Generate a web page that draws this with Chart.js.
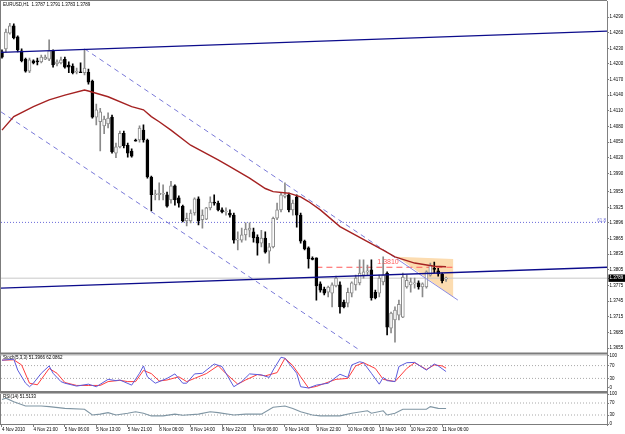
<!DOCTYPE html>
<html lang="en">
<head>
<meta charset="UTF-8">
<title>EURUSD,H1</title>
<script src="https://cdn.jsdelivr.net/npm/chart.js"></script>
<style>
  html, body { margin: 0; padding: 0; background: #fff; }
  canvas { display: block; }
</style>
</head>
<body>
<canvas id="chart" width="625" height="434"></canvas>
<script>
// time axis labels, one every 8 hourly bars
const timeLabels = ['4 Nov 2010', '4 Nov 21:00', '5 Nov 06:00', '5 Nov 13:00', '5 Nov 21:00', '8 Nov 06:00',
  '8 Nov 14:00', '8 Nov 22:00', '9 Nov 06:00', '9 Nov 14:00', '9 Nov 22:00', '10 Nov 06:00',
  '10 Nov 14:00', '10 Nov 22:00', '11 Nov 06:00'];
const timeLabelBars = [0, 8, 16, 24, 32, 40, 48, 56, 64, 72, 80, 88, 96, 104, 112];

const priceTicks = [1.4290, 1.4260, 1.4230, 1.4200, 1.4170, 1.4140, 1.4110, 1.4080, 1.4050, 1.4020,
  1.3990, 1.3955, 1.3925, 1.3896, 1.3865, 1.3835, 1.3805, 1.3789, 1.3775, 1.3745, 1.3715, 1.3685, 1.3655];

// EURUSD H1 candles
const opens = [1.4223,1.4229,1.4259,1.4273,1.4252,1.4225,1.4209,1.4186,1.4206,1.4206,
  1.4204,1.4209,1.4209,1.4225,1.4200,1.4202,1.4209,1.4198,1.4196,1.4184,
  1.4184,1.4183,1.4184,1.4167,1.4098,1.4089,1.4081,1.4085,1.4098,1.4029,
  1.4041,1.4067,1.4044,1.4033,1.4054,1.4054,1.4073,1.4054,1.3983,1.3949,
  1.3949,1.3950,1.3949,1.3939,1.3966,1.3943,1.3927,1.3899,1.3899,1.3914,
  1.3941,1.3901,1.3902,1.3924,1.3935,1.3933,1.3920,1.3916,1.3914,1.3910,
  1.3862,1.3862,1.3872,1.3881,1.3878,1.3868,1.3856,1.3866,1.3841,1.3849,
  1.3904,1.3920,1.3946,1.3949,1.3920,1.3945,1.3910,1.3860,1.3847,1.3826,
  1.3828,1.3778,1.3768,1.3762,1.3760,1.3774,1.3776,1.3743,1.3741,1.3760,
  1.3776,1.3780,1.3795,1.3801,1.3805,1.3762,1.3760,1.3782,1.3799,1.3693,
  1.3709,1.3718,1.3714,1.3772,1.3776,1.3778,1.3780,1.3772,1.3772,1.3795,
  1.3808,1.3803,1.3797,1.3787];
const highs = [1.4227,1.4267,1.4278,1.4277,1.4254,1.4229,1.4211,1.4211,1.4208,1.4211,
  1.4217,1.4217,1.4246,1.4227,1.4208,1.4213,1.4213,1.4204,1.4200,1.4192,
  1.4202,1.4227,1.4190,1.4169,1.4123,1.4115,1.4100,1.4106,1.4102,1.4048,
  1.4071,1.4071,1.4048,1.4037,1.4056,1.4081,1.4083,1.4056,1.3985,1.3958,
  1.3972,1.3968,1.3954,1.3975,1.3968,1.3947,1.3929,1.3914,1.3920,1.3943,
  1.3945,1.3920,1.3925,1.3945,1.3949,1.3937,1.3924,1.3924,1.3920,1.3914,
  1.3878,1.3885,1.3895,1.3895,1.3885,1.3872,1.3881,1.3878,1.3856,1.3906,
  1.3933,1.3952,1.3972,1.3952,1.3939,1.3949,1.3914,1.3862,1.3849,1.3830,
  1.3828,1.3782,1.3772,1.3774,1.3780,1.3793,1.3782,1.3747,1.3770,1.3782,
  1.3795,1.3824,1.3824,1.3814,1.3824,1.3766,1.3795,1.3830,1.3801,1.3724,
  1.3734,1.3747,1.3799,1.3795,1.3789,1.3789,1.3784,1.3780,1.3803,1.3818,
  1.3820,1.3808,1.3799,1.3791];
const lows = [1.4211,1.4223,1.4257,1.4248,1.4223,1.4204,1.4184,1.4183,1.4200,1.4198,
  1.4202,1.4208,1.4206,1.4194,1.4196,1.4200,1.4192,1.4183,1.4181,1.4181,
  1.4183,1.4179,1.4161,1.4096,1.4083,1.4033,1.4066,1.4077,1.4029,1.4020,
  1.4039,1.4039,1.4021,1.4021,1.4052,1.4050,1.4050,1.3981,1.3918,1.3939,
  1.3939,1.3939,1.3925,1.3933,1.3929,1.3925,1.3897,1.3889,1.3895,1.3910,
  1.3891,1.3885,1.3901,1.3920,1.3929,1.3918,1.3914,1.3910,1.3906,1.3856,
  1.3843,1.3858,1.3862,1.3868,1.3858,1.3833,1.3849,1.3837,1.3818,1.3847,
  1.3901,1.3916,1.3943,1.3916,1.3910,1.3887,1.3856,1.3843,1.3808,1.3824,
  1.3747,1.3762,1.3757,1.3753,1.3734,1.3772,1.3722,1.3732,1.3734,1.3753,
  1.3766,1.3776,1.3789,1.3795,1.3747,1.3749,1.3753,1.3776,1.3680,1.3684,
  1.3666,1.3709,1.3713,1.3770,1.3762,1.3770,1.3768,1.3753,1.3770,1.3793,
  1.3799,1.3793,1.3780,1.3783];
const closes = [1.4213,1.4261,1.4273,1.4250,1.4227,1.4206,1.4186,1.4208,1.4202,1.4204,
  1.4213,1.4213,1.4225,1.4198,1.4204,1.4208,1.4194,1.4194,1.4183,1.4185,
  1.4183,1.4192,1.4165,1.4098,1.4112,1.4108,1.4094,1.4096,1.4031,1.4041,
  1.4067,1.4043,1.4029,1.4023,1.4052,1.4077,1.4054,1.3983,1.3949,1.3950,
  1.3952,1.3951,1.3927,1.3966,1.3939,1.3933,1.3899,1.3904,1.3914,1.3941,
  1.3899,1.3910,1.3924,1.3935,1.3933,1.3920,1.3916,1.3917,1.3910,1.3862,
  1.3864,1.3872,1.3883,1.3885,1.3866,1.3856,1.3866,1.3839,1.3849,1.3904,
  1.3920,1.3949,1.3949,1.3920,1.3933,1.3910,1.3860,1.3845,1.3826,1.3825,
  1.3774,1.3766,1.3760,1.3772,1.3776,1.3789,1.3734,1.3734,1.3762,1.3780,
  1.3789,1.3799,1.3801,1.3803,1.3751,1.3751,1.3789,1.3795,1.3695,1.3722,
  1.3728,1.3739,1.3791,1.3785,1.3782,1.3780,1.3772,1.3778,1.3801,1.3814,
  1.3806,1.3797,1.3784,1.3789];

// moving average, read at sampled bars
const maBars = [0, 3, 8, 12, 16, 21, 22, 27, 33, 36, 38, 40, 43, 48, 55, 58, 63, 67, 69, 73, 76, 78, 81, 86, 93, 97, 100, 105, 110, 113];
const maValues = [1.4073, 1.4099, 1.4118, 1.4131, 1.4140, 1.4150, 1.4148, 1.4137, 1.4118, 1.4112, 1.4099, 1.4089,
  1.4073, 1.4044, 1.4016, 1.4003, 1.3981, 1.3961, 1.3955, 1.3952, 1.3945, 1.3936, 1.3920, 1.3888, 1.3859, 1.3843,
  1.3830, 1.3818, 1.3812, 1.3811];

// Stoch(5,3,3)
const stochKBars = [0,3,4,6,7,8,10,12,13,15,16,19,22,24,27,29,30,33,35,36,37,39,42,44,46,47,49,51,54,56,59,61,63,66,68,69,71,72,75,76,78,80,83,86,88,89,91,92,94,96,97,98,100,101,103,105,108,110,111,113];
const stochK = [87,90,56,15,4,15,46,69,46,20,15,6,12,4,27,23,25,9,46,69,35,15,30,44,15,15,44,46,75,67,4,20,44,41,33,56,96,93,46,4,0,9,15,43,33,72,82,79,46,12,33,23,20,67,79,80,56,75,69,51.3966];
const stochDBars = [0,3,5,7,9,12,14,16,19,22,25,27,30,32,34,36,38,40,42,45,47,49,52,55,57,60,62,65,67,70,72,74,76,78,80,85,88,90,92,95,97,100,103,105,108,110,112,113];
const stochD = [87,88,72,15,10,61,46,17,8,8,8,20,24,20,20,55,45,22,25,35,20,30,45,70,45,12,25,42,38,48,93,70,35,0,5,27,30,69,79,61,27,20,61,79,58,72,69,62.0862];
const stochLevels = [70, 30];

// RSI(14)
const rsiBars = [0,1,3,6,10,12,16,21,23,25,27,29,32,34,36,38,41,44,46,50,53,55,59,62,66,69,72,74,76,79,81,83,86,89,93,94,97,98,100,102,105,108,109,111,113];
const rsiValues = [82,86,74,60,60,58,52,49,30,33,38,30,36,41,36,27,27,33,29,33,41,38,30,33,33,56,60,52,41,30,27,27,27,36,44,36,44,30,36,49,49,49,58,52,51.5133];
const rsiLevels = [70, 30];

// drawn objects: [bar, price] anchors
const trendTop = [[-0.25, 1.4222], [153.95, 1.4263]];
const trendBottom = [[-0.25, 1.3770], [153.95, 1.3810]];
const channelUpper = [[21, 1.4229], [100.5, 1.3826]];
const wedgeEdge = [[100.5, 1.3826], [116, 1.3747]];
const channelLower = [[-0.25, 1.4108], [90.6, 1.3653]];
const wedge = [[100.5, 1.3830], [114.8, 1.3826], [114.8, 1.3753], [100.5, 1.3830]];
const resistance = [[80, 1.3810], [114.8, 1.3810]];
const fibLevel = 1.3896;
const lastPrice = closes[closes.length - 1];

const FONT = 'Liberation Sans';
Chart.defaults.font.family = FONT;
Chart.defaults.font.size = 4.5;
Chart.defaults.color = '#000';

const xy = pairs => pairs.map(p => ({x: p[0], y: p[1]}));
const series = (bars, vals) => bars.map((b, i) => ({x: b, y: vals[i]}));
const across = v => [{x: -0.25, y: v}, {x: 153.95, y: v}];
const isUp = i => closes[i] >= opens[i];

function line(data, color, width, axis, order, dash) {
  return {type: 'line', data: data, yAxisID: axis, borderColor: color, borderWidth: width,
    borderDash: dash || [], pointRadius: 0, fill: false, tension: 0, order: order};
}

const datasets = [
  // candle bodies
  {type: 'bar', yAxisID: 'y', order: 4, grouped: false, barThickness: 3, minBarLength: 1,
    borderWidth: 1, borderSkipped: false,
    data: opens.map((o, i) => ({x: i, y: [o, closes[i]]})),
    backgroundColor: opens.map((o, i) => isUp(i) ? '#ffffff' : '#000000'),
    borderColor: opens.map((o, i) => isUp(i) ? '#8a8a8a' : '#000000')},
  // candle wicks
  {type: 'bar', yAxisID: 'y', order: 5, grouped: false, barThickness: 1,
    data: lows.map((l, i) => ({x: i, y: [l, highs[i]]})),
    backgroundColor: lows.map((l, i) => isUp(i) ? '#8a8a8a' : '#000000')},
  line(series(maBars, maValues), '#a52222', 1.4, 'y', 2),
  line(xy(trendTop), '#0c0c8c', 1.3, 'y', 1),
  line(xy(trendBottom), '#0c0c8c', 1.3, 'y', 1),
  line(xy(channelUpper), '#7a7ad8', 1, 'y', 3, [5, 4]),
  line(xy(channelLower), '#7a7ad8', 1, 'y', 3, [5, 4]),
  line(xy(wedgeEdge), '#8a8ae0', 1, 'y', 3),
  line(xy(resistance), '#ff5a5a', 1.2, 'y', 6, [6, 4]),
  line(across(fibLevel), '#6a6ad8', 1, 'y', 7, [1, 2]),
  line(across(lastPrice), '#c8c8c8', 1, 'y', 8),
  Object.assign(line(xy(wedge), 'rgba(0,0,0,0)', 0, 'y', 9), {fill: 'shape', backgroundColor: '#fcdcb0'}),
  // stochastic
  line(series(stochKBars, stochK), '#5c5cdc', 1, 'stoch', 1),
  line(series(stochDBars, stochD), '#ff3c3c', 1, 'stoch', 2),
  ...stochLevels.map(v => line(across(v), '#a8a8a8', 1, 'stoch', 5, [1, 2])),
  // RSI
  line(series(rsiBars, rsiValues), '#7f95a3', 1.1, 'rsi', 1),
  ...rsiLevels.map(v => line(across(v), '#a8a8a8', 1, 'rsi', 5, [1, 2]))
];

function paneAxis(weight, min, max, tickValues, fmt) {
  return {
    type: 'linear', position: 'right', stack: 'panes', stackWeight: weight, min: min, max: max,
    grid: {drawOnChartArea: false, drawTicks: true, tickLength: 2, color: '#808080'},
    border: {display: true, color: '#808080'},
    ticks: {padding: 0.5, autoSkip: false, callback: fmt},
    afterBuildTicks: s => { s.ticks = tickValues.map(v => ({value: v})); },
    afterFit: s => { s.width = 18; s.paddingTop = 0; s.paddingBottom = 0; }
  };
}

const priceAxis = paneAxis(352.5, 1.36445, 1.43207, priceTicks, v => v.toFixed(4));
priceAxis.ticks.color = c => c.tick && c.tick.value === lastPrice ? '#ffffff' : '#000000';
priceAxis.ticks.showLabelBackdrop = c => !!(c.tick && c.tick.value === lastPrice);
priceAxis.ticks.backdropColor = '#000000';
priceAxis.ticks.backdropPadding = {left: 1, right: 3, top: 1, bottom: 1};

const overlay = {
  id: 'overlay',
  afterDraw(chart) {
    const ctx = chart.ctx, a = chart.chartArea;
    const y = chart.scales.y, st = chart.scales.stoch, rs = chart.scales.rsi;
    ctx.save();
    // frame and pane separators
    ctx.fillStyle = '#7c7c7c';
    ctx.fillRect(0, a.top - 1, a.right, 1);
    ctx.fillRect(0, a.top - 1, 1, a.bottom - a.top + 1);
    ctx.fillRect(0, a.bottom - 1, a.right, 1);
    ctx.fillRect(0, y.bottom - 1, a.right, 2);
    ctx.fillRect(0, st.bottom - 1, a.right, 2);
    ctx.fillStyle = '#b8b8b8';
    ctx.fillRect(0, y.bottom + 1, a.right, 1);
    ctx.fillRect(0, st.bottom + 1, a.right, 1);
    // captions
    ctx.textBaseline = 'middle';
    ctx.textAlign = 'left';
    ctx.fillStyle = '#000';
    ctx.font = '4.5px ' + FONT;
    ctx.fillText('EURUSD,H1  ' + [opens, highs, lows, closes].map(s => s[s.length - 1].toFixed(4)).join(' '), 3, 5);
    ctx.fillText('Stoch(5,3,3) ' + stochK[stochK.length - 1].toFixed(4) + ' ' + stochD[stochD.length - 1].toFixed(4), 3, st.top + 4);
    ctx.fillText('RSI(14) ' + rsiValues[rsiValues.length - 1].toFixed(4), 3, rs.top + 4.5);
    // fibo level caption
    ctx.fillStyle = '#6a6ad8';
    ctx.textAlign = 'right';
    ctx.textBaseline = 'bottom';
    ctx.fillText('61.8', a.right - 1, y.getPixelForValue(fibLevel) + 1);
    // resistance caption
    ctx.fillStyle = '#ff5a5a';
    ctx.textAlign = 'left';
    ctx.font = '7px ' + FONT;
    ctx.fillText(resistance[0][1].toFixed(4), chart.scales.x.getPixelForValue(95.5), y.getPixelForValue(resistance[0][1]) - 1.5);
    ctx.restore();
  }
};

new Chart(document.getElementById('chart'), {
  type: 'bar',
  data: {datasets: datasets},
  options: {
    responsive: false,
    animation: false,
    devicePixelRatio: 1,
    layout: {padding: {top: 1, left: 1, right: 0, bottom: 0}},
    plugins: {legend: {display: false}, tooltip: {enabled: false}},
    scales: {
      x: {
        type: 'linear', position: 'bottom', min: -0.25, max: 153.95, offset: false,
        grid: {offset: false, drawOnChartArea: false, drawTicks: true, tickLength: 2, color: '#808080'},
        border: {display: false},
        ticks: {autoSkip: false, maxRotation: 0, align: 'start', padding: 0.5,
          callback: (v, i) => timeLabels[i]},
        afterBuildTicks: s => { s.ticks = timeLabelBars.map(v => ({value: v})); },
        afterFit: s => { s.height = 9; s.paddingLeft = 0; s.paddingRight = 0; }
      },
      y: priceAxis,
      stoch: paneAxis(38.5, -12.5, 107.8, [100, 70, 30, 0], v => String(v)),
      rsi: paneAxis(33, -3.3, 106.7, [100, 70, 30, 0], v => String(v))
    }
  },
  plugins: [overlay]
});
</script>
</body>
</html>
